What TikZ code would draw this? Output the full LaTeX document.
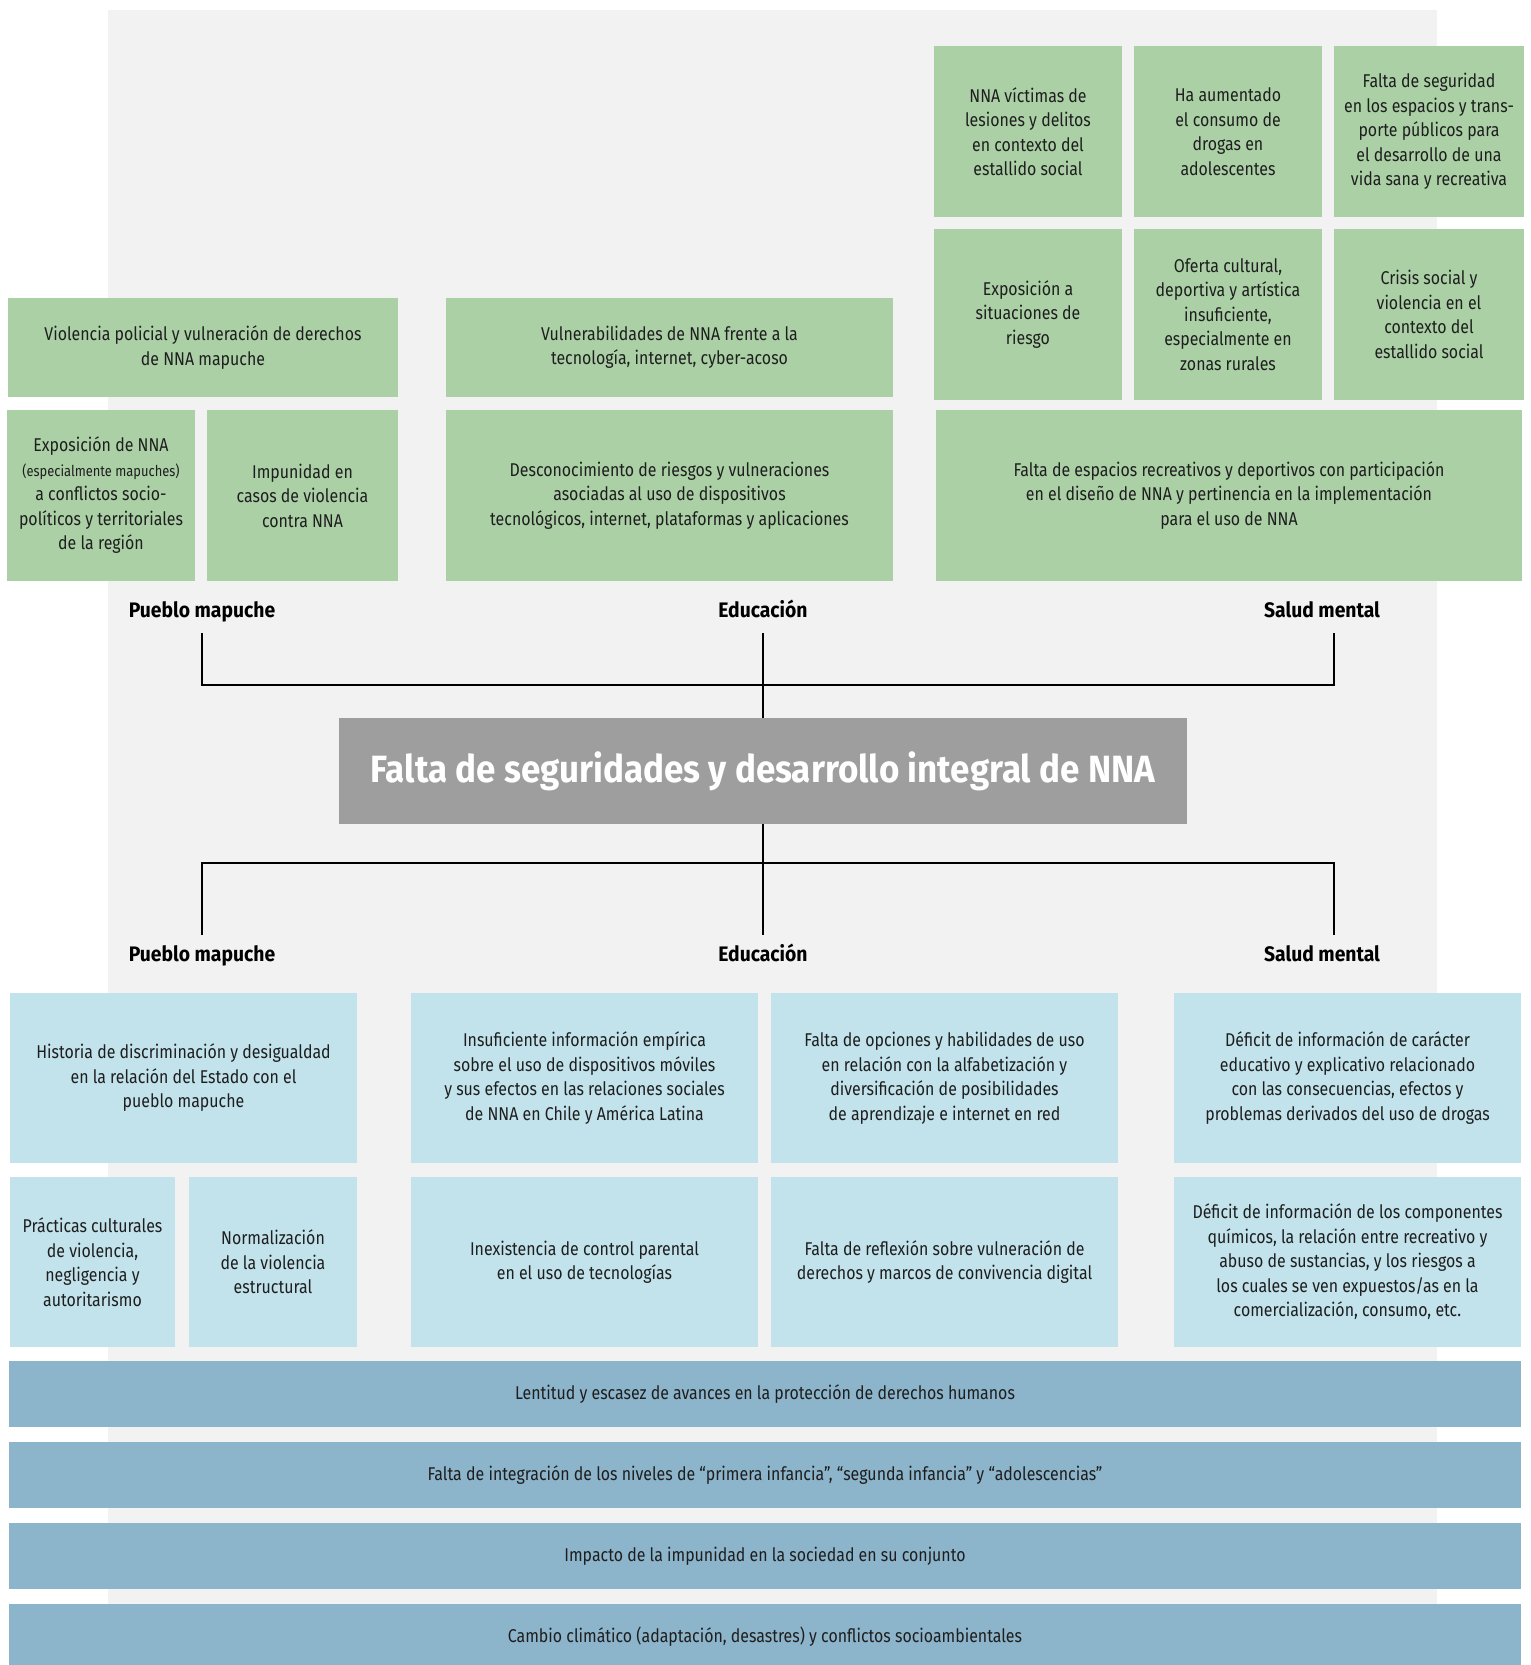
\documentclass[tikz,border=0pt]{standalone}
\usepackage{fontspec}
\setmainfont[FakeStretch=0.86]{Fira Sans}
\newfontfamily\titlefont[FakeStretch=0.92]{Fira Sans}
\newfontfamily\areafont[FakeStretch=0.92]{Fira Sans}
\usetikzlibrary{positioning}

\definecolor{bggray}{HTML}{F2F2F2}
\definecolor{lgreen}{HTML}{ABD0A6}
\definecolor{lblue}{HTML}{C2E3EC}
\definecolor{dblue}{HTML}{8CB4CA}
\definecolor{coregray}{HTML}{9D9E9D}
\definecolor{txt}{HTML}{1E1E1E}

\tikzset{
  box/.style={inner sep=0pt, outer sep=0pt, align=center, text=txt,
    font=\fontsize{18.5}{24.5}\selectfont},
  gbox/.style={box, fill=lgreen},
  bbox/.style={box, fill=lblue},
  band/.style={box, fill=dblue, minimum width=1512, minimum height=66},
  sq/.style={minimum width=188, minimum height=171},
  wide/.style={minimum width=347, minimum height=170},
  area/.style={inner sep=0pt, outer sep=0pt, minimum height=42,
    text height=15pt, text depth=5pt,
    font=\areafont\bfseries\fontsize{21}{24}\selectfont},
  conn/.style={draw=black, line width=1.3pt}
}

\begin{document}
\begin{tikzpicture}[x=1pt, y=-1pt]
  \useasboundingbox (0,0) rectangle (1531,1665);
  \fill[bggray] (108,10) rectangle (1437,1665);

  % efectos
  \node[gbox, sq] (vict) at (1028,131.5) {NNA víctimas de\\lesiones y delitos\\en contexto del\\estallido social};
  \node[gbox, sq] (drog) at (1228,131.5) {Ha aumentado\\el consumo de\\drogas en\\adolescentes};
  \node[gbox, sq, minimum width=190] (transp) at (1429,131.5) {Falta de seguridad\\en los espacios y trans-\\porte públicos para\\el desarrollo de una\\vida sana y recreativa};
  \node[gbox, sq] (riesgo) [below=12pt of vict] {Exposición a\\situaciones de\\riesgo};
  \node[gbox, sq] (oferta) [below=12pt of drog] {Oferta cultural,\\deportiva y artística\\insuficiente,\\especialmente en\\zonas rurales};
  \node[gbox, sq, minimum width=190] (crisis) [below=12pt of transp] {Crisis social y\\violencia en el\\contexto del\\estallido social};

  \node[gbox, minimum width=390, minimum height=99] (viol) at (203,347.5) {Violencia policial y vulneración de derechos\\de NNA mapuche};
  \node[gbox, minimum width=447, minimum height=99] (vulner) at (669.5,347.5) {Vulnerabilidades de NNA frente a la\\tecnología, internet, cyber-acoso};

  \node[gbox, sq] (expo) at (101,495.5) {Exposición de NNA\\{\fontsize{15}{18}\selectfont(especialmente mapuches)}\\a conflictos socio-\\políticos y territoriales\\de la región};
  \node[gbox, sq, minimum width=191] (impun) at (302.5,495.5) {Impunidad en\\casos de violencia\\contra NNA};
  \node[gbox, minimum width=447, minimum height=171] (descon) at (669.5,495.5) {Desconocimiento de riesgos y vulneraciones\\asociadas al uso de dispositivos\\tecnológicos, internet, plataformas y aplicaciones};
  \node[gbox, minimum width=586, minimum height=171] (espac) at (1229,495.5) {Falta de espacios recreativos y deportivos con participación\\en el diseño de NNA y pertinencia en la implementación\\para el uso de NNA};

  \node[area] (lpm) at (202,612) {Pueblo mapuche};
  \node[area] (led) at (763,612) {Educación};
  \node[area] (lsm) at (1322,612) {Salud mental};

  % problema central
  \node[inner sep=0pt, outer sep=0pt, fill=coregray, minimum width=848, minimum height=106,
    text=white, font=\titlefont\bfseries\fontsize{38}{42}\selectfont] (core) at (763,771)
    {Falta de seguridades y desarrollo integral de NNA};

  \coordinate (tl) at (202,685);
  \coordinate (tr) at (1334,685);
  \coordinate (bl) at (202,863);
  \coordinate (br) at (1334,863);

  \node[area] (lpm2) at (202,956) {Pueblo mapuche};
  \node[area] (led2) at (763,956) {Educación};
  \node[area] (lsm2) at (1322,956) {Salud mental};

  \draw[conn] (led.south) -- (core.north);
  \draw[conn] (lpm.south) -- (tl) -- (tr) -- (tr |- lsm.south);
  \draw[conn] (core.south) -- (led2.north);
  \draw[conn] (lpm2.north) -- (bl) -- (br) -- (br |- lsm2.north);

  % causas
  \node[bbox, wide] (hist) at (183.5,1078) {Historia de discriminación y desigualdad\\en la relación del Estado con el\\pueblo mapuche};
  \node[bbox, wide] (insuf) at (584.5,1078) {Insuficiente información empírica\\sobre el uso de dispositivos móviles\\y sus efectos en las relaciones sociales\\de NNA en Chile y América Latina};
  \node[bbox, wide] (opcion) at (944.5,1078) {Falta de opciones y habilidades de uso\\en relación con la alfabetización y\\diversificación de posibilidades\\de aprendizaje e internet en red};
  \node[bbox, wide] (defdrog) at (1347.5,1078) {Déficit de información de carácter\\educativo y explicativo relacionado\\con las consecuencias, efectos y\\problemas derivados del uso de drogas};

  \node[bbox, wide, minimum width=165] (pract) at (92.5,1262) {Prácticas culturales\\de violencia,\\negligencia y\\autoritarismo};
  \node[bbox, wide, minimum width=168] (normal) at (273,1262) {Normalización\\de la violencia\\estructural};
  \node[bbox, wide] (control) [below=14pt of insuf] {Inexistencia de control parental\\en el uso de tecnologías};
  \node[bbox, wide] (reflex) [below=14pt of opcion] {Falta de reflexión sobre vulneración de\\derechos y marcos de convivencia digital};
  \node[bbox, wide] (defquim) [below=14pt of defdrog] {Déficit de información de los componentes\\químicos, la relación entre recreativo y\\abuso de sustancias, y los riesgos a\\los cuales se ven expuestos/as en la\\comercialización, consumo, etc.};

  \node[band] (lent) at (765,1394) {Lentitud y escasez de avances en la protección de derechos humanos};
  \node[band] (integ) [below=15pt of lent] {Falta de integración de los niveles de “primera infancia”, “segunda infancia” y “adolescencias”};
  \node[band] (impac) [below=15pt of integ] {Impacto de la impunidad en la sociedad en su conjunto};
  \node[band] (clima) [below=15pt of impac] {Cambio climático (adaptación, desastres) y conflictos socioambientales};
\end{tikzpicture}
\end{document}
